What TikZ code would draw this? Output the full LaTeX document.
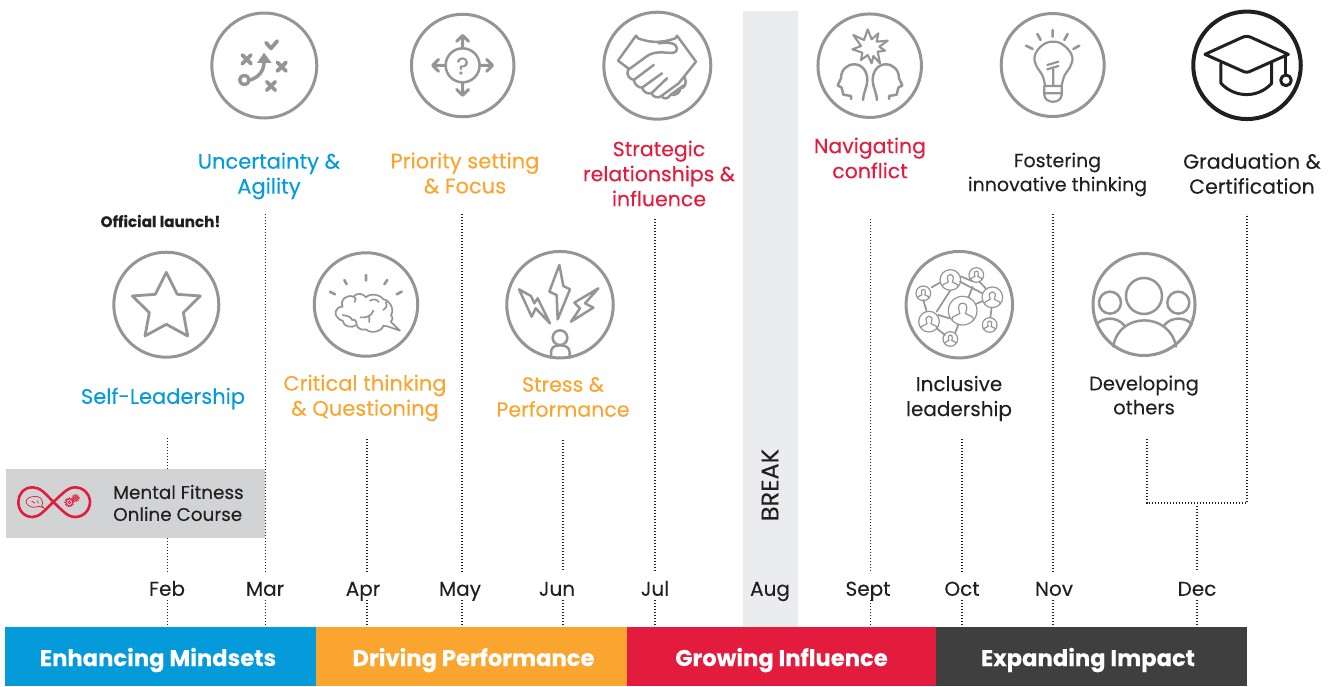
\documentclass[tikz,border=0pt]{standalone}
\usepackage{fontspec}
\setmainfont{Poppins}[FakeBold=0.12]
\usepackage{tikz}
\usetikzlibrary{positioning}
\definecolor{mindsetblue}{HTML}{059BDB}
\definecolor{driveorange}{HTML}{FBA531}
\definecolor{growred}{HTML}{E31B3C}
\definecolor{impactgray}{HTML}{3F3F40}
\definecolor{icongray}{HTML}{939598}
\definecolor{inkblack}{HTML}{231F20}
\definecolor{breakgray}{HTML}{EBECEE}
\definecolor{coursegray}{HTML}{D1D3D4}
\tikzset{
    ring/.style={circle, draw=icongray, line width=3pt, inner sep=0pt}, % the circle round each icon
    icon/.style={draw=icongray, line width=2.5pt, line cap=round, line join=round},
    thinicon/.style={icon, line width=1.7pt},
    topic/.style={align=center, inner sep=0pt, font=\fontsize{20.5}{25}\selectfont},
    widetopic/.style={topic, font=\fontsize{21}{25}\selectfont},
    month/.style={inner sep=0pt, minimum height=28pt, text height=20pt, text depth=.5pt, text=inkblack, font=\fontsize{20}{24}\selectfont},
    theme/.style={inner sep=0pt, minimum height=59pt},
    themetext/.style={inner sep=0pt, text height=20pt, text depth=1pt, text=white, font=\fontsize{22.7}{27}\selectfont\bfseries},
    dotline/.style={draw=inkblack, line width=1.1pt, dash pattern=on 1.1pt off 1.9pt},
    zoomed/.style 2 args={shift={(#1,#2)}, x=.3333pt, y=-.3333pt}, % local unit is a third of a pixel
    cross/.pic={\draw[icon, line width=3.8pt] (-13,-13) -- (13,13) (-13,13) -- (13,-13);},
    member/.pic={
        \draw[draw=icongray, line width=1.2pt] (0,0) circle[radius=1];
        \draw[draw=icongray, line width=1.2pt] (-.75,.65) -- (-.7,.45) -- (-.2,.2) -- (-.25,0)
            .. controls (-.5,-.7) and (.5,-.7) .. (.25,0) -- (.2,.2) -- (.7,.45) -- (.75,.65);
    },
}

\begin{document}
\begin{tikzpicture}[x=1pt, y=-1pt]
\useasboundingbox (0,0) rectangle (1337,686);

% the break band and the bar of themes
\fill[breakgray] (743,11) rectangle (798,627);
\node[theme, fill=mindsetblue, minimum width=311pt] (mindsets)    at (160.5,656.5)  {};
\node[theme, fill=driveorange, minimum width=311pt] (performance) at (471.5,656.5)  {};
\node[theme, fill=growred,     minimum width=309pt] (influence)   at (781.5,656.5)  {};
\node[theme, fill=impactgray,  minimum width=311pt] (impact)      at (1091.5,656.5) {};
\node[themetext, xshift=-2.5pt] (mindsetstext)    at (mindsets)    {Enhancing Mindsets};
\node[themetext, xshift=2pt]    (performancetext) at (performance) {Driving Performance};
\node[themetext]                (influencetext)   at (influence)   {Growing Influence};
\node[themetext, xshift=-3.5pt] (impacttext)      at (impact)      {Expanding Impact};
\node[rotate=90, inner sep=0pt, text=inkblack, font=\fontsize{24}{28}\selectfont] (break) at (770,485) {BREAK};

% months
\node[month] (feb)  at (167,586)  {Feb};
\node[month] (mar)  at (265,586)  {Mar};
\node[month] (apr)  at (363,586)  {Apr};
\node[month] (may)  at (460,586)  {May};
\node[month] (jun)  at (557,586)  {Jun};
\node[month] (jul)  at (655,586)  {Jul};
\node[month] (aug)  at (770,586)  {Aug};
\node[month] (sept) at (868,586)  {Sept};
\node[month] (oct)  at (962,586)  {Oct};
\node[month] (nov)  at (1054,586) {Nov};
\node[month] (dec)  at (1197,586) {Dec};

% course box
\node[fill=coursegray, minimum width=259pt, minimum height=69pt, inner sep=0pt] (course) at (135.5,503.5) {};
\node[right, align=left, inner sep=0pt, text=inkblack, font=\fontsize{18.4}{22}\selectfont] (coursetext) at (113,503) {Mental Fitness\\Online Course};

% topic labels
\node[widetopic, text=mindsetblue] (selflead)  at (163,398.5)  {Self-Leadership};
\node[widetopic, text=mindsetblue] (agility)   at (269,176)    {Uncertainty \&\\Agility};
\node[widetopic, text=driveorange] (critical)  at (365,398)    {Critical thinking\\\& Questioning};
\node[widetopic, text=driveorange] (priority)  at (465,173)    {Priority setting\\\& Focus};
\node[topic, text=driveorange] (stress)    at (563,397)    {Stress \&\\Performance};
\node[topic, text=growred]     (strategic) at (659,173.5)  {Strategic\\relationships \&\\influence};
\node[topic, text=growred]     (conflict)  at (870,158)    {Navigating\\conflict};
\node[topic, text=inkblack, font=\fontsize{20}{25}\selectfont]   (inclusive)  at (959,398.5)  {Inclusive\\leadership};
\node[topic, text=inkblack, font=\fontsize{19}{24}\selectfont]   (fostering)  at (1057.5,174.5) {Fostering\\innovative thinking};
\node[topic, text=inkblack, font=\fontsize{19.5}{24}\selectfont] (developing) at (1144,395)   {Developing\\others};
\node[topic, text=inkblack]    (graduate)  at (1252,173.5) {Graduation \&\\Certification};
\node[inner sep=0pt, text=inkblack, font=\fontsize{15.2}{18}\selectfont\bfseries] (launch) at (160.5,221) {Official launch!};

% free ends of the dotted lines
\coordinate (febtop)  at (167.5,438);
\coordinate (martop)  at (265.5,214);
\coordinate (aprtop)  at (367,439);
\coordinate (maytop)  at (462,214);
\coordinate (juntop)  at (563,440);
\coordinate (jultop)  at (655,219);
\coordinate (septop)  at (870.5,219);
\coordinate (octtop)  at (962,439);
\coordinate (novtop)  at (1053,214);
\coordinate (devtop)  at (1147,439);
\coordinate (gradtop) at (1247,214);
\coordinate (dectop)  at (1197,506);
\coordinate (devcorner)  at (1147,503);
\coordinate (gradcorner) at (1247,503);

\draw[dotline]
(febtop) -- (febtop |- course.north)   (febtop |- course.south) -- (febtop |- feb.north)   (febtop |- feb.south) -- (febtop |- mindsets.north)
(martop) -- (martop |- mar.north)      (martop |- mar.south) -- (martop |- mindsets.north)
(aprtop) -- (aprtop |- apr.north)      (aprtop |- apr.south) -- (aprtop |- performance.north)
(maytop) -- (maytop |- may.north)      (maytop |- may.south) -- (maytop |- performance.north)
(juntop) -- (juntop |- jun.north)      (juntop |- jun.south) -- (juntop |- performance.north)
(jultop) -- (jultop |- jul.north)      (jultop |- jul.south) -- (jultop |- influence.north)
(septop) -- (septop |- sept.north)     (septop |- sept.south) -- (septop |- influence.north)
(octtop) -- (octtop |- oct.north)      (octtop |- oct.south) -- (octtop |- impact.north)
(novtop) -- (novtop |- nov.north)      (novtop |- nov.south) -- (novtop |- impact.north)
(devtop) -- (devcorner) -- (gradcorner) -- (gradtop)
(dectop) -- (dectop |- dec.north)      (dectop |- dec.south) -- (dectop |- impact.north);

% rings
\node[ring, minimum size=105pt] (staricon)     at (166.3,304.7) {};
\node[ring, minimum size=105pt] (agileicon)    at (264.3,65.5)  {};
\node[ring, minimum size=103.5pt] (brainicon)  at (366,304.5)   {};
\node[ring, minimum size=102.5pt] (arrowsicon) at (462.7,65.5)  {};
\node[ring, minimum size=106.5pt] (bolticon)   at (560,304.7)   {};
\node[ring, minimum size=107pt] (handsicon)    at (657.3,65.7)  {};
\node[ring, minimum size=103.5pt] (headsicon)  at (869.7,65.7)  {};
\node[ring, minimum size=106.5pt] (teamicon)   at (959.3,304.7) {};
\node[ring, minimum size=103pt] (bulbicon)     at (1052.7,65)   {};
\node[ring, minimum size=102pt] (peopleicon)   at (1144,304.5)  {};
\node[ring, draw=inkblack, line width=4pt, minimum size=107.5pt] (capicon) at (1247,65.3) {};

% agility icon
\begin{scope}[zoomed={90}{0}]
\draw[icon, line width=3.4pt] (463,240) circle[radius=14];
\draw[icon, line width=3.5pt] (480,240) .. controls (505,232) and (522,215) .. (522,185);
\fill[icongray] (522,158) -- (545,189) -- (501,189) -- cycle;
\draw[icon, line width=3.8pt] (528,128) -- (543,145) -- (562,123);
\pic at (470,178) {cross};
\pic at (575,200) {cross};
\pic at (543,258) {cross};
\end{scope}

% arrows icon
\begin{scope}[zoomed={90}{0}]
\draw[icon] (1118,196) circle[radius=51];
\foreach \turn in {0,90,180,270}
    \draw[icon, line width=3pt, rotate around={\turn:(1118,196)}] (1169,196) -- (1206,196) (1190,178) -- (1208,196) -- (1190,214);
\node[inner sep=0pt, text=icongray, font=\fontsize{24}{28}\selectfont] (query) at (1118,198) {?};
\end{scope}

% star icon
\begin{scope}[zoomed={90}{0}]
\draw[icon, line width=2.8pt] (229,817) -- (262,883) -- (331,888) -- (280,938) -- (293,1008) -- (229,973) -- (165,1008) -- (178,938) -- (127,888) -- (196,883) -- cycle;
\end{scope}

% brain icon
\begin{scope}[zoomed={320}{260}]
\draw[thinicon] (55,175) .. controls (40,165) and (45,140) .. (68,140)
    .. controls (58,120) and (80,102) .. (100,110)
    .. controls (110,97) and (130,100) .. (138,112)
    .. controls (150,98) and (182,104) .. (190,118)
    .. controls (210,120) and (224,150) .. (213,165)
    .. controls (220,175) and (218,182) .. (212,185)
    -- (240,212) -- (205,200) -- (190,197)
    .. controls (185,216) and (150,222) .. (138,208)
    .. controls (125,212) and (112,205) .. (110,195)
    .. controls (95,206) and (70,200) .. (68,182)
    .. controls (62,182) and (58,178) .. (55,175) -- cycle;
\draw[thinicon] (100,110) .. controls (108,112) and (110,120) .. (104,126)
    (150,122) .. controls (160,116) and (172,118) .. (176,126)
    (122,172) .. controls (135,174) and (155,170) .. (160,152)
    (148,170) .. controls (150,176) and (150,180) .. (148,186)
    (68,165) .. controls (85,168) and (95,172) .. (96,180)
    (96,180) .. controls (105,176) and (110,185) .. (110,195)
    (190,150) .. controls (198,146) and (202,138) .. (198,126);
\draw[icon, line width=2.6pt] (138,45) -- (138,62) (73,60) -- (80,73) (202,60) -- (193,73) (30,95) -- (45,103) (245,95) -- (230,103);
\end{scope}

% bolts icon
\begin{scope}[zoomed={515}{260}]
\draw[icon] (133,15) -- (103,95) -- (125,105) -- (128,178) -- (165,88) -- (145,78) -- cycle;
\draw[icon] (12,88) -- (48,108) -- (58,130) -- (68,115) -- (105,190) -- (62,145) -- (50,170) -- cycle;
\draw[icon] (250,85) -- (178,128) -- (195,145) -- (168,185) -- (235,143) -- (210,130) -- cycle;
\draw[icon] (135,233) circle[radius=22];
\draw[icon] (108,293) -- (108,278) .. controls (108,262) and (118,256) .. (135,256) .. controls (152,256) and (164,262) .. (164,278) -- (164,293);
\end{scope}

% hands icon
\begin{scope}[zoomed={612}{20}]
\draw[icon] (72,47) -- (18,122) -- (50,146)
    (78,55) .. controls (110,66) and (140,72) .. (190,55)
    (195,47) -- (252,125) -- (200,190)
    (72,47) -- (78,55) (195,47) -- (190,55)
    (140,70) .. controls (165,66) and (195,68) .. (195,85) .. controls (195,100) and (180,100) .. (165,98)
    .. controls (130,95) and (115,100) .. (100,112) -- (48,150)
    .. controls (42,165) and (52,176) .. (65,180) -- (125,135)
    (65,180) .. controls (68,195) and (80,203) .. (90,203) -- (150,160)
    (90,203) .. controls (95,218) and (108,222) .. (118,220) -- (165,175)
    (118,220) .. controls (125,232) and (138,236) .. (148,228) -- (200,190)
    (148,228) .. controls (155,238) and (168,238) .. (175,225) -- (215,196)
    (175,225) .. controls (190,228) and (205,218) .. (205,205)
    .. controls (218,205) and (226,190) .. (218,172);
\end{scope}

% heads icon
\begin{scope}[zoomed={825}{20}]
\draw[icon, line width=2.1pt] (128,28) -- (140,58) -- (160,40) -- (155,65) -- (188,62) -- (163,80) -- (180,92) -- (158,95) -- (165,130) -- (145,108) -- (140,130) -- (128,105) -- (108,120) -- (112,98) -- (82,88) -- (108,78) -- (85,45) -- (117,60) -- cycle;
\draw[icon] (78,237) -- (78,228) -- (55,224) .. controls (52,215) and (52,208) .. (50,203) -- (38,196) -- (48,175)
    .. controls (48,150) and (65,133) .. (88,133) .. controls (112,133) and (127,155) .. (127,180)
    .. controls (127,200) and (116,215) .. (114,240);
\draw[icon] (192,237) -- (192,228) -- (215,224) .. controls (218,215) and (218,208) .. (220,203) -- (232,196) -- (222,175)
    .. controls (222,150) and (205,133) .. (182,133) .. controls (158,133) and (143,155) .. (143,180)
    .. controls (143,200) and (154,215) .. (156,240);
\end{scope}

% team icon
\begin{scope}[zoomed={890}{0}]
\draw[thinicon] (100,900) -- (110,935) (125,862) -- (150,848) (181,871) -- (140,935)
    (210,845) -- (277,880) (245,843) -- (212,829) (268,845) -- (288,866) (235,893) -- (248,860)
    (258,912) -- (278,903) (305,923) -- (301,953) (145,945) -- (178,955)
    (140,985) -- (165,1005) (195,1000) -- (205,974);
\pic[scale=43] at (218,932) {member};
\pic[scale=31] at (181,840) {member};
\pic[scale=22] at (259,825) {member};
\pic[scale=31] at (307,892) {member};
\pic[scale=22] at (299,975) {member};
\pic[scale=22] at (181,1017) {member};
\pic[scale=31] at (117,965) {member};
\pic[scale=22] at (100,880) {member};
\end{scope}

% bulb icon
\begin{scope}[zoomed={890}{0}]
\draw[thinicon, line width=2.2pt] plot[smooth, tension=.7] coordinates {(465,258) (458,228) (438,195) (435,165) (458,135) (490,125) (520,135) (545,165) (543,195) (523,228) (515,258)};
\draw[icon, line width=2.2pt] (463,258) -- (515,258) (463,280) -- (515,280) (463,258) -- (463,285) .. controls (465,312) and (513,312) .. (515,285) -- (515,258);
\draw[icon, line width=2.2pt] (472,195) -- (505,185) (472,208) -- (505,198) (490,208) -- (490,256);
\draw[icon, line width=2.6pt] (488,90) -- (488,110) (442,102) -- (452,120) (533,102) -- (523,120) (408,137) -- (428,147) (568,137) -- (550,147);
\end{scope}

% cap icon
\begin{scope}[zoomed={890}{0}]
\draw[icon, draw=inkblack, line width=3pt] (945,163) -- (1055,113) .. controls (1065,108) and (1075,108) .. (1085,113) -- (1195,163) -- (1085,212) .. controls (1075,218) and (1065,218) .. (1055,212) -- cycle;
\draw[icon, draw=inkblack, line width=3pt] (993,190) -- (993,250) .. controls (1035,295) and (1105,295) .. (1145,250) -- (1145,190);
\draw[icon, draw=inkblack, line width=3pt] (1188,165) -- (1188,224);
\draw[icon, draw=inkblack, line width=3pt] (1188,241) circle[radius=16];
\end{scope}

% people icon
\begin{scope}[zoomed={890}{0}]
\draw[icon] (762,888) circle[radius=54];
\draw[icon] (660,908) circle[radius=33];
\draw[icon] (865,908) circle[radius=33];
\draw[icon] (670,1040) .. controls (685,935) and (840,935) .. (858,1040);
\draw[icon] (620,973) .. controls (640,950) and (680,950) .. (702,975);
\draw[icon] (823,975) .. controls (845,950) and (885,950) .. (906,973);
\end{scope}

% infinity logo
\begin{scope}[zoomed={10}{478}]
\draw[draw=growred, line width=2.6pt] (130,72) .. controls (105,45) and (90,28) .. (68,28) .. controls (40,28) and (25,50) .. (25,72) .. controls (25,95) and (40,117) .. (68,117) .. controls (90,117) and (105,95) .. (130,72)
    .. controls (155,50) and (172,28) .. (195,28) .. controls (222,28) and (240,50) .. (240,72) .. controls (240,95) and (222,117) .. (195,117) .. controls (172,117) and (155,95) .. (130,72);
\draw[draw=growred, line width=.7pt] plot[smooth cycle] coordinates {(48,72) (55,60) (75,55) (92,60) (98,75) (95,82) (102,90) (88,85) (70,88) (55,82)};
\draw[draw=growred, line width=.7pt] (65,70) -- (75,75) (82,68) -- (85,76);
\draw[draw=growred, line width=.8pt] (178,73) circle[radius=10] (197,60) circle[radius=7] (178,73) circle[radius=4] (197,60) circle[radius=3];
\draw[draw=growred, line width=1.4pt, dash pattern=on .9pt off .9pt] (178,73) circle[radius=13] (197,60) circle[radius=10];
\end{scope}
\end{tikzpicture}
\end{document}
